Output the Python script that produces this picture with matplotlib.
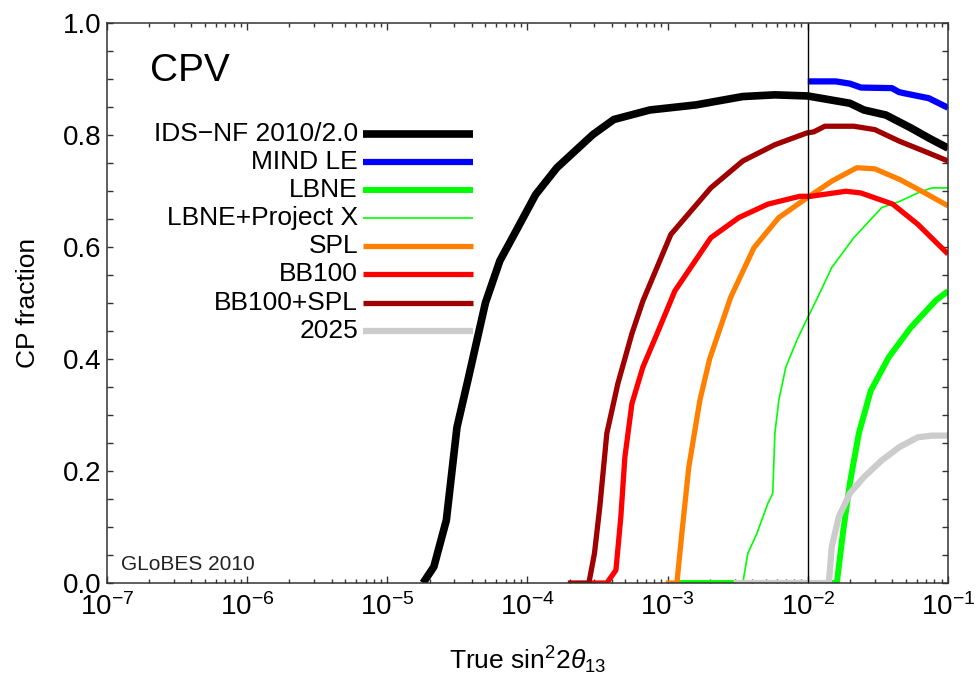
import numpy as np
import matplotlib
matplotlib.use('Agg')
import matplotlib.pyplot as plt
from matplotlib.ticker import LogLocator, MultipleLocator, LogFormatterMathtext, NullFormatter

# ==========================================
# 1. data (log10 of true sin^2 2theta13, CP fraction)
# ==========================================
ids_lx = [-4.745, -4.668, -4.579, -4.503, -4.426, -4.30, -4.197, -4.069, -3.942, -3.790, -3.534,
          -3.384, -3.127, -2.799, -2.464, -2.235, -2.0, -1.700, -1.600, -1.443, -1.265, -1.137, -1.0]
ids_y = [0.0, 0.029, 0.112, 0.278, 0.361, 0.50, 0.575, 0.634, 0.693, 0.741, 0.800,
         0.827, 0.844, 0.853, 0.868, 0.871, 0.869, 0.856, 0.844, 0.835, 0.812, 0.794, 0.776]

mind_lx = [-2.0, -1.80, -1.70, -1.62, -1.40, -1.35, -1.315, -1.137, -1.0]
mind_y = [0.895, 0.895, 0.891, 0.884, 0.883, 0.876, 0.874, 0.865, 0.848]

lbne_lx = [-2.934, -1.793, -1.750, -1.700, -1.636, -1.551, -1.422, -1.265, -1.087, -1.0]
lbne_y = [0.0, 0.0, 0.088, 0.178, 0.267, 0.343, 0.403, 0.456, 0.504, 0.521]

lbnepx_lx = [-2.464, -2.428, -2.364, -2.285, -2.250, -2.235, -2.207, -2.157, -2.075, -2.0, -1.929,
             -1.829, -1.672, -1.472, -1.344, -1.215, -1.116, -1.0]
lbnepx_y = [0.0, 0.053, 0.088, 0.142, 0.160, 0.267, 0.326, 0.385, 0.435, 0.474, 0.510,
            0.563, 0.616, 0.670, 0.681, 0.696, 0.705, 0.705]

spl_lx = [-3.013, -2.934, -2.899, -2.849, -2.770, -2.700, -2.550, -2.385, -2.207, -2.007,
          -1.829, -1.650, -1.522, -1.344, -1.165, -1.0]
spl_y = [0.0, 0.0, 0.088, 0.207, 0.326, 0.400, 0.510, 0.598, 0.652, 0.687,
         0.717, 0.741, 0.739, 0.720, 0.696, 0.673]

bb_lx = [-3.562, -3.434, -3.369, -3.334, -3.305, -3.255, -3.177, -3.077, -2.977, -2.949,
         -2.692, -2.492, -2.285, -2.057, -1.979, -1.729, -1.622, -1.394, -1.215, -1.0]
bb_y = [0.0, 0.0, 0.023, 0.118, 0.225, 0.320, 0.385, 0.444, 0.504, 0.521,
        0.616, 0.652, 0.676, 0.690, 0.690, 0.699, 0.696, 0.676, 0.640, 0.587]

bbspl_lx = [-3.712, -3.562, -3.522, -3.484, -3.434, -3.355, -3.255, -3.177, -2.977, -2.692,
            -2.464, -2.235, -2.007, -1.957, -1.879, -1.672, -1.522, -1.344, -1.165, -1.0]
bbspl_y = [0.0, 0.0, 0.053, 0.136, 0.267, 0.356, 0.445, 0.503, 0.622, 0.705,
           0.753, 0.782, 0.803, 0.805, 0.815, 0.815, 0.809, 0.788, 0.770, 0.753]

y2025_lx = [-2.528, -1.850, -1.829, -1.779, -1.700, -1.600, -1.472, -1.344, -1.215, -1.116, -1.0]
y2025_y = [0.0, 0.0, 0.065, 0.118, 0.160, 0.189, 0.219, 0.243, 0.260, 0.263, 0.263]

labels = ['IDS\u2212NF 2010/2.0', 'MIND LE', 'LBNE', 'LBNE+Project X', 'SPL', 'BB100', 'BB100+SPL', '2025']
series = [(ids_lx, ids_y), (mind_lx, mind_y), (lbne_lx, lbne_y), (lbnepx_lx, lbnepx_y),
          (spl_lx, spl_y), (bb_lx, bb_y), (bbspl_lx, bbspl_y), (y2025_lx, y2025_y)]
colors = ['#000000', '#0000ff', '#00ff00', '#00ff00', '#ff8000', '#ff0000', '#a00000', '#cccccc']
widths = [5.5, 4.5, 4.3, 1.2, 3.8, 3.8, 3.8, 4.5]

# ==========================================
# 2. style
# ==========================================
plt.rcParams['font.family'] = ['Liberation Sans', 'DejaVu Sans']
plt.rcParams['mathtext.fontset'] = 'custom'
plt.rcParams['mathtext.rm'] = 'Liberation Sans'
plt.rcParams['mathtext.it'] = 'Liberation Sans:italic'
plt.rcParams['mathtext.sf'] = 'Liberation Sans'

fig = plt.figure(figsize=(9.78, 6.77), dpi=100)
ax = fig.add_axes([0.1094, 0.1388, 0.8599, 0.8279])

for (lx, yy), c, w in zip(series, colors, widths):
    ax.plot(10 ** np.array(lx), yy, color=c, lw=w, solid_capstyle='butt', solid_joinstyle='round')

ax.axvline(1e-2, color='k', lw=1.0)

ax.set_xscale('log')
ax.set_xlim(1e-7, 1e-1)
ax.set_ylim(0, 1)
ax.xaxis.set_major_locator(LogLocator(base=10, numticks=10))
ax.xaxis.set_minor_locator(LogLocator(base=10, subs=np.arange(2, 10), numticks=100))
ax.xaxis.set_major_formatter(LogFormatterMathtext())
ax.xaxis.set_minor_formatter(NullFormatter())
ax.yaxis.set_major_locator(MultipleLocator(0.2))
ax.yaxis.set_minor_locator(MultipleLocator(0.05))
ax.yaxis.set_major_formatter(plt.FuncFormatter(lambda v, p: f'{v:.1f}'))

ax.tick_params(which='both', direction='in', top=True, right=True, width=1.0, color='#333333')
ax.tick_params(axis='x', which='major', length=5, labelsize=20, pad=7)
ax.tick_params(axis='x', which='minor', length=3)
ax.tick_params(axis='y', which='major', length=4.5, labelsize=20, pad=4)
ax.tick_params(axis='y', which='minor', length=4)
for s in ax.spines.values():
    s.set_linewidth(1.1)
    s.set_color('#333333')

ax.set_xlabel(r'True $\mathrm{sin}^2 2\theta_{13}$', fontsize=19)
ax.set_ylabel('CP fraction', fontsize=19)
ax.xaxis.set_label_coords(0.5, -0.11)
ax.yaxis.set_label_coords(-0.08, 0.5)

ax.text(0.051, 0.896, 'CPV', transform=ax.transAxes, fontsize=28, va='baseline', ha='left')
ax.text(0.0166, 0.023, 'GLoBES 2010', transform=ax.transAxes, fontsize=15, va='baseline', ha='left',
        color='#222222')

# manual legend, text right-aligned, line sample to the right
y0, dy = 0.802, 0.0503
for i, (lab, c, w) in enumerate(zip(labels, colors, widths)):
    yy = y0 - i * dy
    ax.text(0.2985, yy, lab, transform=ax.transAxes, fontsize=19, ha='right', va='center')
    ax.plot([0.3044, 0.435], [yy, yy], transform=ax.transAxes, color=c, lw=w,
            solid_capstyle='butt', clip_on=False)

fig.savefig('out.png', dpi=100)
